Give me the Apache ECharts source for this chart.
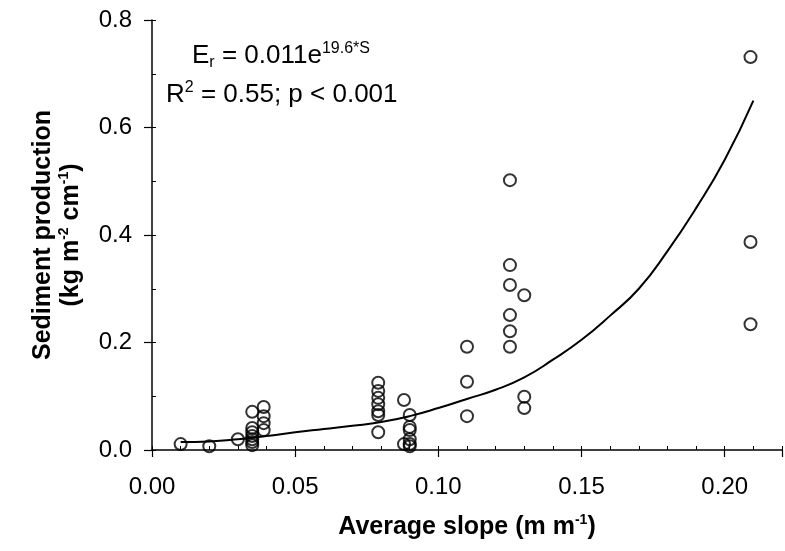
<!DOCTYPE html>
<html>
<head>
<meta charset="utf-8">
<script src="https://cdn.jsdelivr.net/npm/echarts@6/dist/echarts.min.js"></script>
<style>
  html, body { margin: 0; padding: 0; background: #fff; }
  #chart1 { width: 785px; height: 551px; }
</style>
</head>
<body>
<div id="chart1"></div>
<script>
// observed plots
var slope = [0.010, 0.020, 0.030,
  0.035, 0.035, 0.035, 0.035, 0.035, 0.035, 0.035,
  0.039, 0.039, 0.039, 0.039,
  0.079, 0.079, 0.079, 0.079, 0.079, 0.079, 0.079,
  0.088, 0.088,
  0.090, 0.090, 0.090, 0.090, 0.090, 0.090,
  0.110, 0.110, 0.110,
  0.125, 0.125, 0.125, 0.125, 0.125, 0.125,
  0.130, 0.130, 0.130,
  0.209, 0.209, 0.209];
var sediment = [0.011, 0.007, 0.020,
  0.071, 0.041, 0.033, 0.026, 0.020, 0.015, 0.009,
  0.080, 0.063, 0.050, 0.037,
  0.125, 0.110, 0.097, 0.085, 0.072, 0.065, 0.033,
  0.093, 0.011,
  0.065, 0.043, 0.037, 0.020, 0.011, 0.007,
  0.192, 0.127, 0.063,
  0.502, 0.344, 0.307, 0.251, 0.221, 0.192,
  0.288, 0.099, 0.078,
  0.731, 0.387, 0.234];

// fitted curve
var curveSlope = [0.01, 0.02, 0.03, 0.04, 0.05, 0.06, 0.07, 0.08, 0.09, 0.10, 0.11,
  0.12, 0.13, 0.14, 0.15, 0.16, 0.17, 0.18, 0.19, 0.20, 0.21];
var curveSed = [0.015, 0.016, 0.020, 0.026, 0.033, 0.039, 0.045, 0.052, 0.063, 0.078, 0.095,
  0.112, 0.135, 0.168, 0.205, 0.250, 0.300, 0.370, 0.450, 0.540, 0.650];

var xTicks = [0, 0.05, 0.10, 0.15, 0.20];
var yTicks = [0, 0.2, 0.4, 0.6, 0.8];

var FONT = "'Liberation Sans', Arial, sans-serif";

(function(){
  var points = [];
  for (var i = 0; i < slope.length; i++) points.push([slope[i], sediment[i]]);
  var curve = [];
  for (var j = 0; j < curveSlope.length; j++) curve.push([curveSlope[j], curveSed[j]]);

  var myChart = echarts.init(document.getElementById('chart1'));
  var eqRich = {
    n: { fontSize: 26, fontWeight: 'normal', fontFamily: FONT, color: '#000', lineHeight: 30 },
    sup: { fontSize: 16, fontWeight: 'normal', fontFamily: FONT, color: '#000', lineHeight: 14, verticalAlign: 'top' },
    sub: { fontSize: 16, fontWeight: 'normal', fontFamily: FONT, color: '#000', lineHeight: 16, verticalAlign: 'bottom' }
  };
  var nameRich = {
    t: { fontSize: 25, fontWeight: 'bold', fontFamily: FONT, color: '#000', lineHeight: 28 },
    s: { fontSize: 14, fontWeight: 'bold', fontFamily: FONT, color: '#000', lineHeight: 14, verticalAlign: 'top' }
  };

  var option = {
    animation: false,
    backgroundColor: '#fff',
    title: [
      { text: '{n|E}{sub|r}{n| = 0.011e}{sup|19.6*S}', left: 192, top: 41, padding: 0,
        textStyle: { fontWeight: 'normal', rich: eqRich } },
      { text: '{n|R}{sup|2}{n| = 0.55; p < 0.001}', left: 166, top: 80, padding: 0,
        textStyle: { fontWeight: 'normal', rich: eqRich } }
    ],
    grid: { left: 152, right: -7, top: 20, bottom: 101 },
    xAxis: [
      {
        type: 'value', min: 0, max: 0.22, interval: 0.05,
        name: '{t|Average slope (m m}{s|-1}{t|)}',
        nameLocation: 'middle', nameGap: 63,
        nameTextStyle: { rich: nameRich },
        axisLine: { show: true, lineStyle: { color: '#000', width: 1.5 } },
        axisTick: { show: true, inside: false, length: 7, lineStyle: { color: '#000', width: 1.2 } },
        axisLabel: {
          margin: 25, fontSize: 24, fontFamily: FONT, color: '#000',
          formatter: function (v) {
            return xTicks.indexOf(Math.round(v * 100) / 100) >= 0 && Math.abs(v * 20 - Math.round(v * 20)) < 1e-6 ? v.toFixed(2) : '';
          }
        },
        splitLine: { show: false }
      },
      {
        type: 'value', min: 0, max: 0.22, interval: 0.01, position: 'bottom',
        axisLine: { show: false },
        axisTick: { show: true, inside: true, length: 4, lineStyle: { color: '#000', width: 1 } },
        axisLabel: { show: false },
        splitLine: { show: false }
      }
    ],
    yAxis: [
      {
        type: 'value', min: 0, max: 0.8, interval: 0.2,
        name: '{t|Sediment production}\n{t|(kg m}{s|-2}{t| cm}{s|-1}{t|)}',
        nameLocation: 'middle', nameGap: 67,
        nameTextStyle: { rich: nameRich, align: 'center' },
        axisLine: { show: true, lineStyle: { color: '#000', width: 1.5 } },
        axisTick: { show: true, inside: false, length: 8, lineStyle: { color: '#000', width: 1.2 } },
        axisLabel: {
          margin: 20, fontSize: 24, fontFamily: FONT, color: '#000',
          formatter: function (v) { return v.toFixed(1); }
        },
        splitLine: { show: false }
      },
      {
        type: 'value', min: 0, max: 0.8, interval: 0.1, position: 'left',
        axisLine: { show: false },
        axisTick: { show: true, inside: true, length: 4, lineStyle: { color: '#000', width: 1 } },
        axisLabel: { show: false },
        splitLine: { show: false }
      }
    ],
    series: [
      {
        name: 'fit',
        type: 'line',
        data: curve,
        smooth: true,
        symbol: 'none',
        lineStyle: { color: '#000', width: 2 },
        z: 2
      },
      {
        name: 'observed',
        type: 'scatter',
        data: points,
        symbol: 'circle',
        symbolSize: 12,
        itemStyle: { color: 'rgba(0,0,0,0)', borderColor: '#000', borderWidth: 2 },
        z: 3
      }
    ]
  };
  myChart.setOption(option);
}());
</script>
</body>
</html>
